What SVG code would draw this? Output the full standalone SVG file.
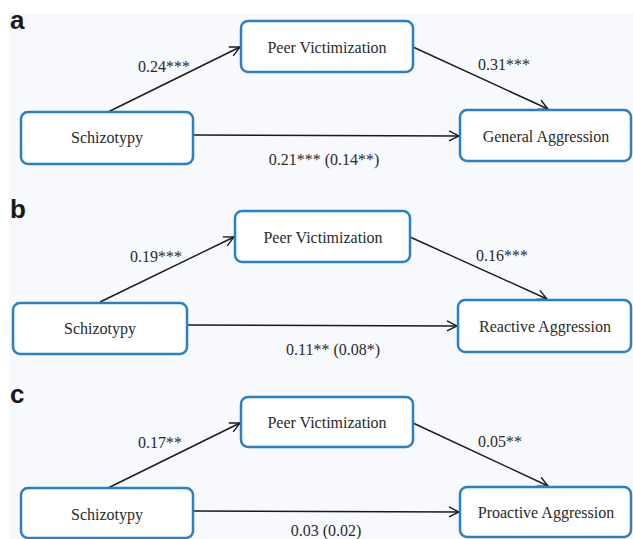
<svg xmlns="http://www.w3.org/2000/svg" width="633" height="539" viewBox="0 0 633 539">
<style>
.box{fill:#ffffff;stroke:#2b7fc3;stroke-width:2.5}
.t{font-family:"Liberation Serif","Times New Roman",serif;font-size:16px;fill:#2a2a2a;text-anchor:middle}
.lbl{font-family:"Liberation Serif","Times New Roman",serif;font-size:16px;fill:#2a2a2a}
.pl{font-family:"Liberation Sans",Arial,sans-serif;font-size:26px;font-weight:bold;fill:#1a1a1a}
.c{stroke:#1a1a1a;stroke-width:1.4;fill:none;marker-end:url(#ah)}
</style>
<defs>
<marker id="ah" viewBox="0 0 12 12" refX="11" refY="6" markerWidth="12" markerHeight="12" markerUnits="userSpaceOnUse" orient="auto">
<path d="M1,1 L11,6 L1,11" fill="none" stroke="#1a1a1a" stroke-width="1.4"/>
</marker>
</defs>
<rect x="0" y="0" width="633" height="539" fill="#ffffff"/>
<rect x="9" y="13" width="624" height="526" fill="#f8f9fc"/>
<text class="pl" x="10" y="29">a</text>
<text class="pl" x="10" y="218">b</text>
<text class="pl" x="10" y="403">c</text>
<g id="connectors">
<line class="c" x1="108" y1="112" x2="240" y2="47"/>
<line class="c" x1="413" y1="47" x2="548" y2="109"/>
<line class="c" x1="193" y1="135" x2="459" y2="136"/>
<line class="c" x1="100" y1="302" x2="234" y2="237"/>
<line class="c" x1="410" y1="237" x2="547" y2="299"/>
<line class="c" x1="187" y1="325" x2="457" y2="326"/>
<line class="c" x1="108" y1="488" x2="240" y2="423"/>
<line class="c" x1="413" y1="423" x2="548" y2="486"/>
<line class="c" x1="193" y1="511" x2="459" y2="512"/>
<text class="lbl" x="138" y="72">0.24***</text>
<text class="lbl" x="478" y="70">0.31***</text>
<text class="t" x="324" y="165">0.21*** (0.14**)</text>
<text class="lbl" x="130" y="262">0.19***</text>
<text class="lbl" x="476" y="261">0.16***</text>
<text class="t" x="333" y="355">0.11** (0.08*)</text>
<text class="lbl" x="138" y="448">0.17**</text>
<text class="lbl" x="478" y="447">0.05**</text>
<text class="t" x="326" y="536">0.03 (0.02)</text>
</g>
<g id="a-schizotypy"><rect class="box" x="21" y="112" width="172" height="52" rx="7"/><text class="t" x="107" y="143">Schizotypy</text></g>
<g id="a-peer"><rect class="box" x="241" y="21" width="172" height="51" rx="7"/><text class="t" x="327" y="53">Peer Victimization</text></g>
<g id="a-general"><rect class="box" x="460" y="110" width="171" height="51" rx="7"/><text class="t" x="546" y="142">General Aggression</text></g>
<g id="b-schizotypy"><rect class="box" x="13" y="303" width="174" height="51" rx="7"/><text class="t" x="100" y="334">Schizotypy</text></g>
<g id="b-peer"><rect class="box" x="235" y="211" width="175" height="51" rx="7"/><text class="t" x="323" y="243">Peer Victimization</text></g>
<g id="b-reactive"><rect class="box" x="458" y="300" width="173" height="52" rx="7"/><text class="t" x="545" y="332">Reactive Aggression</text></g>
<g id="c-schizotypy"><rect class="box" x="21" y="488" width="172" height="50" rx="7"/><text class="t" x="107" y="520">Schizotypy</text></g>
<g id="c-peer"><rect class="box" x="241" y="397" width="172" height="50" rx="7"/><text class="t" x="327" y="428">Peer Victimization</text></g>
<g id="c-proactive"><rect class="box" x="460" y="487" width="171" height="50" rx="7"/><text class="t" x="546" y="518">Proactive Aggression</text></g>
</svg>
